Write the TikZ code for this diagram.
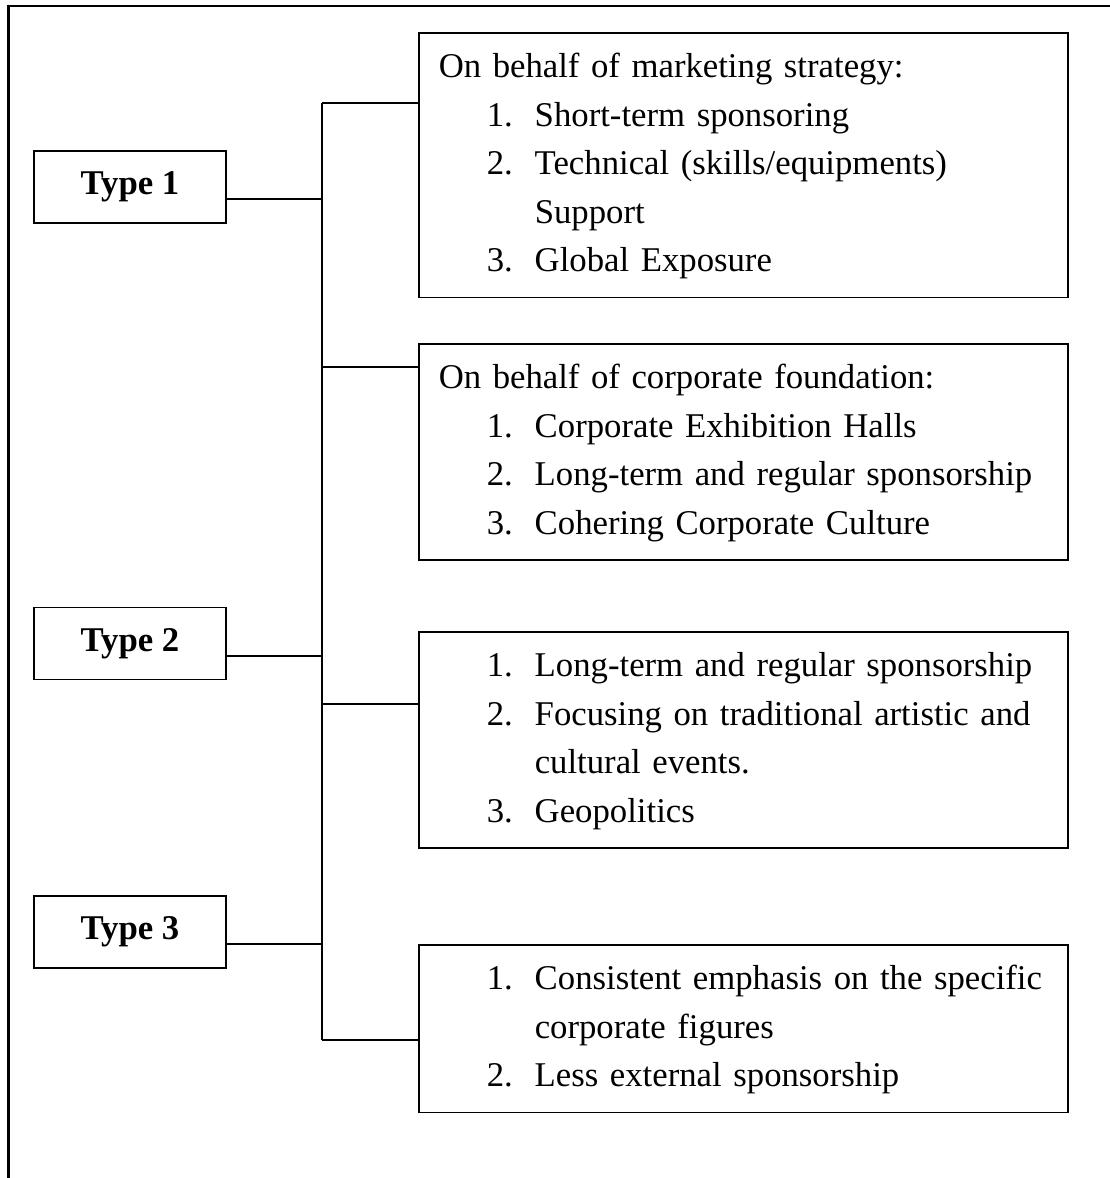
\documentclass[tikz,border=0pt]{standalone}
\usepackage{fontspec}
\setmainfont{Liberation Serif}
% one drawing unit = 0.36pt
\newlength\pxu \setlength\pxu{0.36pt}
\newlength\bsk \setlength\bsk{17.46pt}
\newcommand\lstrut{\rule[-0.3\bsk]{0pt}{\bsk}}
\newcommand\headline[1]{\mbox{\lstrut #1}}
\newcommand\entry[2]{\mbox{\lstrut\hspace*{48\pxu}\makebox[48\pxu][l]{#1}#2}}
\newcommand\cont[1]{\mbox{\lstrut\hspace*{96\pxu}#1}}
\begin{document}
\begin{tikzpicture}[x=0.36pt, y=-0.36pt,
  frame/.style={line width=0.72pt},
  link/.style={line width=0.5pt},
  typebox/.style={draw, line width=0.55pt, minimum width=69.12pt, minimum height=25.92pt,
    inner sep=0pt, font=\bfseries\fontsize{12.5}{14}\selectfont},
  infobox/.style={draw, line width=0.55pt, anchor=north west, align=left,
    text width=219.24pt, inner xsep=7.2pt, inner ysep=3.96pt,
    font=\fontsize{12.5}{17.46}\selectfont}]
\useasboundingbox (0,0) rectangle (1110,1178);

% outer frame (only its top and left sides fall inside the page)
\draw[frame] (1110,6) -- (8.5,6) -- (8.5,1178);

% type boxes
\node[typebox] (t1) at (130,187) {Type 1};
\node[typebox] (t2) at (130,643.5) {Type 2};
\node[typebox] (t3) at (130,932) {Type 3};

% description boxes
\node[infobox] (m1) at (418,32) {\headline{On behalf of marketing strategy:}\\
  \entry{1.}{Short-term sponsoring}\\
  \entry{2.}{Technical (skills/equipments)}\\
  \cont{Support}\\
  \entry{3.}{Global Exposure}};
\node[infobox] (m2) at (418,343) {\headline{On behalf of corporate foundation:}\\
  \entry{1.}{Corporate Exhibition Halls}\\
  \entry{2.}{Long-term and regular sponsorship}\\
  \entry{3.}{Cohering Corporate Culture}};
\node[infobox] (m3) at (418,631) {\entry{1.}{Long-term and regular sponsorship}\\
  \entry{2.}{Focusing on traditional artistic and}\\
  \cont{cultural events.}\\
  \entry{3.}{Geopolitics}};
\node[infobox] (m4) at (418,944) {\entry{1.}{Consistent emphasis on the specific}\\
  \cont{corporate figures}\\
  \entry{2.}{Less external sponsorship}};

% bus and its junctions
\coordinate (j1) at (322,103);
\coordinate (j2) at (322,367);
\coordinate (j3) at (322,704);
\coordinate (j4) at (322,1040);
\coordinate (k1) at (322,199);
\coordinate (k2) at (322,656);
\coordinate (k3) at (322,944);

\draw[link] (j1) -- (j4);
\draw[link] (j1) -- (j1 -| m1.west);
\draw[link] (j2) -- (j2 -| m2.west);
\draw[link] (j3) -- (j3 -| m3.west);
\draw[link] (j4) -- (j4 -| m4.west);
\draw[link] (t1.east |- k1) -- (k1);
\draw[link] (t2.east |- k2) -- (k2);
\draw[link] (t3.east |- k3) -- (k3);
\end{tikzpicture}
\end{document}
